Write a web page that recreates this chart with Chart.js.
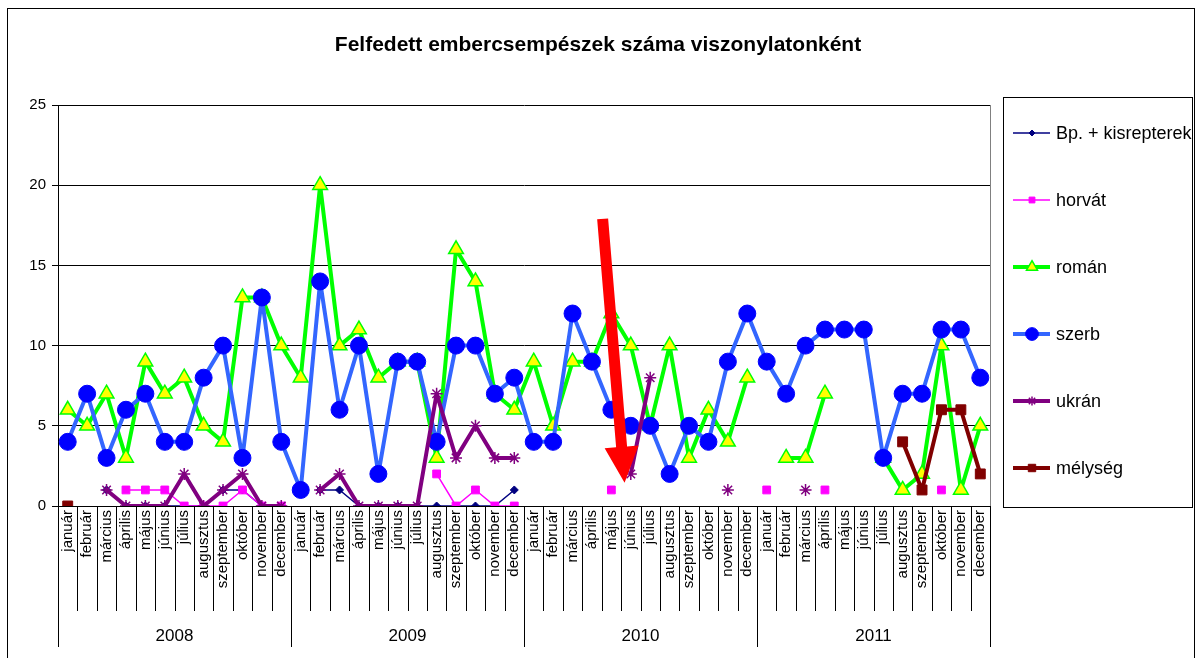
<!DOCTYPE html>
<html>
<head>
<meta charset="utf-8">
<script src="https://cdn.jsdelivr.net/npm/chart.js@4.4.0/dist/chart.umd.min.js"></script>
<style>
  html, body { margin: 0; padding: 0; background: #fff; }
  #wrap { width: 1196px; height: 658px; position: relative; }
</style>
</head>
<body>
<div id="wrap"><canvas id="chart" width="1196" height="658"></canvas></div>
<script>
const n = null;
const months = ['január', 'február', 'március', 'április', 'május', 'június', 'július',
  'augusztus', 'szeptember', 'október', 'november', 'december'];
const years = ['2008', '2009', '2010', '2011'];
const labels = years.flatMap(() => months);

const bp = [n,n,1,0,0,0,0,0,1,1,0,0, n,1,1,0,0,0,0,0,0,0,0,1,
  n,n,n,n,n,n,n,n,n,n,n,n, n,n,n,n,n,n,n,n,n,n,n,n];
const horvat = [n,n,n,1,1,1,0,0,0,1,0,0, n,n,n,n,n,n,n,2,0,1,0,0,
  n,n,n,n,1,n,n,n,n,n,n,n, 1,n,n,1,n,n,n,n,n,1,n,n];
const roman = [6,5,7,3,9,7,8,5,4,13,13,10, 8,20,10,11,8,9,9,3,16,14,7,6,
  9,5,9,9,12,10,5,10,3,6,4,8, n,3,3,7,n,n,3,1,2,10,1,5];
const szerb = [4,7,3,6,7,4,4,8,10,3,13,4, 1,14,6,10,2,9,9,4,10,10,7,8,
  4,4,12,9,6,5,5,2,5,4,9,12, 9,7,10,11,11,11,3,7,7,11,11,8];
const ukran = [n,n,1,0,0,0,2,0,1,2,0,0, n,1,2,0,0,0,0,7,3,5,3,3,
  n,n,n,n,n,2,8,n,n,n,1,n, n,n,1,n,n,n,n,n,n,n,n,n];
const melyseg = [0,n,n,n,n,n,n,n,n,n,n,n, n,n,n,n,n,n,n,n,n,n,n,n,
  n,n,n,n,n,n,n,n,n,n,n,n, n,n,n,n,n,n,n,4,1,6,6,2];

const title = 'Felfedett embercsempészek száma viszonylatonként';
// arrow annotation: [category index, value] of tail and tip
const arrowFrom = [27.55, 17.9];
const arrowTo = [28.68, 1.45];

Chart.defaults.font.family = '"Liberation Sans", Arial, sans-serif';
Chart.defaults.color = '#000';

const extras = {
  id: 'extras',
  afterDraw(chart) {
    const ctx = chart.ctx;
    const a = chart.chartArea;
    const xs = chart.scales.x, ys = chart.scales.y;
    ctx.save();

    // title
    ctx.fillStyle = '#000';
    ctx.font = 'bold 21px "Liberation Sans", Arial, sans-serif';
    ctx.textAlign = 'center';
    ctx.textBaseline = 'middle';
    ctx.fillText(title, 598, 45);

    // right edge of plot area
    ctx.strokeStyle = '#808080';
    ctx.lineWidth = 1;
    ctx.beginPath();
    ctx.moveTo(a.right + 0.5, a.top);
    ctx.lineTo(a.right + 0.5, a.bottom);
    ctx.stroke();

    // category separators and year row
    const step = (a.right - a.left) / labels.length;
    ctx.strokeStyle = '#000';
    for (let i = 0; i <= labels.length; i++) {
      const x = Math.round(a.left + i * step) + 0.5;
      const len = i % 12 === 0 ? 141 : 105;
      ctx.beginPath();
      ctx.moveTo(x, a.bottom);
      ctx.lineTo(x, a.bottom + len);
      ctx.stroke();
    }
    ctx.font = '17px "Liberation Sans", Arial, sans-serif';
    years.forEach((y, k) => {
      ctx.fillText(y, a.left + (k * 12 + 6) * step, 636);
    });

    // red arrow
    const sx = xs.getPixelForValue(arrowFrom[0]), sy = ys.getPixelForValue(arrowFrom[1]);
    const tx = xs.getPixelForValue(arrowTo[0]), ty = ys.getPixelForValue(arrowTo[1]);
    const len = Math.hypot(tx - sx, ty - sy);
    const dx = (tx - sx) / len, dy = (ty - sy) / len;
    const nx = -dy, ny = dx;
    const hw = 5.5, hh = 17, hl = 36;
    const bx = tx - dx * hl, by = ty - dy * hl;
    ctx.fillStyle = '#ff0000';
    ctx.beginPath();
    ctx.moveTo(sx + nx * hw, sy + ny * hw);
    ctx.lineTo(bx + nx * hw, by + ny * hw);
    ctx.lineTo(bx + nx * hh, by + ny * hh);
    ctx.lineTo(tx, ty);
    ctx.lineTo(bx - nx * hh, by - ny * hh);
    ctx.lineTo(bx - nx * hw, by - ny * hw);
    ctx.lineTo(sx - nx * hw, sy - ny * hw);
    ctx.closePath();
    ctx.fill();

    // legend
    ctx.strokeStyle = '#000';
    ctx.lineWidth = 1;
    ctx.strokeRect(1003.5, 97.5, 189, 410);
    ctx.textAlign = 'left';
    chart.data.datasets.forEach((ds, i) => {
      const y = 133 + i * 67;
      ctx.strokeStyle = ds.borderColor;
      ctx.lineWidth = ds.borderWidth;
      ctx.beginPath();
      ctx.moveTo(1013, y);
      ctx.lineTo(1050, y);
      ctx.stroke();
      ctx.fillStyle = ds.pointBackgroundColor;
      ctx.strokeStyle = ds.pointBorderColor;
      ctx.lineWidth = ds.pointBorderWidth;
      Chart.helpers.drawPoint(ctx, {
        pointStyle: ds.pointStyle, radius: ds.pointRadius * 0.75,
        borderWidth: ds.pointBorderWidth, rotation: 0
      }, 1032, y);
      ctx.fillStyle = '#000';
      ctx.font = '18px "Liberation Sans", Arial, sans-serif';
      ctx.fillText(ds.label, 1056, y + 1);
    });

    // outer frame
    ctx.strokeStyle = '#000';
    ctx.lineWidth = 1;
    ctx.strokeRect(7.5, 8.5, 1187, 700);
    ctx.restore();
  }
};

function series(label, data, line, lineW, style, radius, fill, border, borderW, order) {
  return {
    label, data, order,
    borderColor: line, borderWidth: lineW, borderJoinStyle: 'round',
    pointStyle: style, pointRadius: radius, pointHoverRadius: radius,
    pointBackgroundColor: fill, pointBorderColor: border, pointBorderWidth: borderW,
    tension: 0, spanGaps: false, fill: false
  };
}

new Chart(document.getElementById('chart'), {
  type: 'line',
  data: {
    labels: labels,
    datasets: [
      series('Bp. + kisrepterek', bp, '#000080', 1.5, 'rectRot', 4, '#000080', '#000080', 1, 6),
      series('horvát', horvat, '#ff00ff', 1.5, 'rect', 5.5, '#ff00ff', '#ff00ff', 1, 5),
      series('román', roman, '#00ff00', 4, 'triangle', 8.5, '#ffff00', '#00ff00', 1.5, 4),
      series('szerb', szerb, '#3366ff', 4, 'circle', 8.5, '#0000ff', '#0000ff', 1, 3),
      series('ukrán', ukran, '#800080', 4, 'star', 6, '#800080', '#800080', 1.5, 2),
      series('mélység', melyseg, '#800000', 4, 'rect', 7, '#800000', '#800000', 1, 1)
    ]
  },
  options: {
    responsive: false,
    animation: false,
    layout: { padding: { left: 8, right: 206, top: 105, bottom: 22 } },
    plugins: {
      legend: { display: false },
      title: { display: false },
      tooltip: { enabled: false }
    },
    scales: {
      x: {
        type: 'category',
        offset: true,
        afterFit: s => { s.height = 130; },
        grid: { display: true, drawOnChartArea: false, drawTicks: false },
        border: { display: true, color: '#000', width: 1 },
        ticks: {
          autoSkip: false, maxRotation: 90, minRotation: 90, padding: 4,
          font: { size: 15 }, color: '#000'
        }
      },
      y: {
        min: 0, max: 25,
        afterFit: s => { s.width = 50; },
        grid: { color: '#000', lineWidth: 1, tickLength: 6 },
        border: { display: true, color: '#000', width: 1 },
        ticks: { stepSize: 5, padding: 6, font: { size: 15 }, color: '#000' }
      }
    }
  },
  plugins: [extras]
});
</script>
</body>
</html>
